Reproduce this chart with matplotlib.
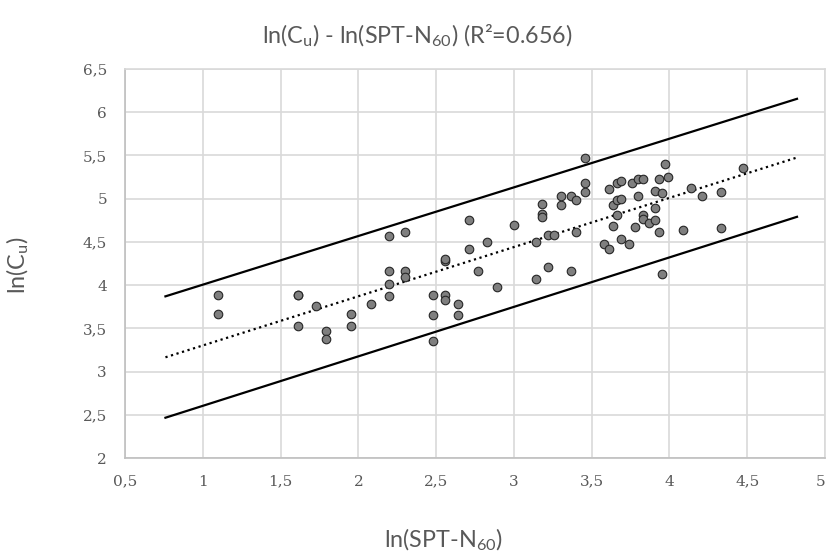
import matplotlib
matplotlib.use("Agg")
import matplotlib.pyplot as plt

# Data (ln(SPT-N60), ln(Cu))
x_vals = [1.10, 1.10, 1.61, 1.61, 1.73, 1.61, 1.79, 1.79, 1.95, 1.95,
          2.08, 2.20, 2.30, 2.20, 2.30, 2.30, 2.20, 2.20, 2.48, 2.48,
          2.48, 2.56, 2.56, 2.56, 2.56, 2.64, 2.64, 2.71, 2.71, 2.77,
          2.83, 2.89, 3.00, 3.14, 3.14, 3.22, 3.26, 3.22, 3.18, 3.18,
          3.18, 3.30, 3.30, 3.37, 3.46, 3.46, 3.46, 3.37, 3.40, 3.40,
          3.61, 3.66, 3.69, 3.64, 3.66, 3.69, 3.66, 3.64, 3.69, 3.58,
          3.61, 3.74, 3.76, 3.80, 3.83, 3.80, 3.78, 3.83, 3.83, 3.87,
          3.91, 3.91, 3.93, 3.91, 3.95, 3.93, 3.97, 3.99, 3.95, 4.09,
          4.14, 4.21, 4.33, 4.33, 4.47]
y_vals = [3.89, 3.67, 3.89, 3.89, 3.76, 3.53, 3.47, 3.38, 3.67, 3.53,
          3.78, 4.57, 4.61, 4.16, 4.16, 4.09, 4.01, 3.87, 3.89, 3.66,
          3.35, 4.28, 4.30, 3.89, 3.83, 3.78, 3.66, 4.75, 4.42, 4.16,
          4.50, 3.98, 4.70, 4.50, 4.07, 4.58, 4.58, 4.21, 4.94, 4.82,
          4.79, 4.93, 5.03, 4.16, 5.47, 5.18, 5.08, 5.03, 4.99, 4.61,
          5.11, 5.18, 5.21, 4.93, 4.99, 5.00, 4.81, 4.68, 4.53, 4.47,
          4.42, 4.48, 5.18, 5.23, 5.23, 5.03, 4.67, 4.81, 4.76, 4.72,
          4.89, 4.75, 5.23, 5.09, 5.06, 4.61, 5.40, 5.25, 4.13, 4.64,
          5.12, 5.03, 5.08, 4.66, 5.35]

# Regression line and bounds
line_x = [0.76, 4.82]
fit_y = [3.165, 5.476]
upper_y = [3.87, 6.155]
lower_y = [2.466, 4.79]

x_ticks = [0.5, 1, 1.5, 2, 2.5, 3, 3.5, 4, 4.5, 5]
x_tick_labels = ["0,5", "1", "1,5", "2", "2,5", "3", "3,5", "4", "4,5", "5"]
y_ticks = [2, 2.5, 3, 3.5, 4, 4.5, 5, 5.5, 6, 6.5]
y_tick_labels = ["2", "2,5", "3", "3,5", "4", "4,5", "5", "5,5", "6", "6,5"]

text_color = "#595959"
grid_color = "#d9d9d9"

fig = plt.figure(figsize=(8.28, 5.57), dpi=100)
ax = fig.add_axes([125 / 828, 1 - 458 / 557, 700 / 828, 389 / 557])

ax.plot(line_x, upper_y, color="black", lw=1.6, zorder=3)
ax.plot(line_x, lower_y, color="black", lw=1.6, zorder=3)
ax.plot(line_x, fit_y, color="black", lw=1.6, linestyle=(0, (1, 1.6)), zorder=3)
ax.scatter(x_vals, y_vals, s=38, facecolor="#7f7f7f", edgecolor="#262626",
           linewidth=0.8, zorder=4)

ax.set_xlim(0.5, 5)
ax.set_ylim(2, 6.5)
ax.set_xticks(x_ticks)
ax.set_xticklabels(x_tick_labels)
ax.set_yticks(y_ticks)
ax.set_yticklabels(y_tick_labels)
ax.tick_params(length=0, colors=text_color, labelsize=11)
ax.tick_params(axis="x", pad=12)
ax.tick_params(axis="y", pad=13)
for lab in ax.get_xticklabels() + ax.get_yticklabels():
    lab.set_family("DejaVu Serif")
    lab.set_color(text_color)
ax.get_xticklabels()[-1].set_horizontalalignment("right")

ax.grid(True, color=grid_color, lw=1.2, zorder=0)
ax.set_axisbelow(True)
for side in ["top", "right"]:
    ax.spines[side].set_color(grid_color)
    ax.spines[side].set_linewidth(1.2)
for side in ["left", "bottom"]:
    ax.spines[side].set_color("#bfbfbf")
    ax.spines[side].set_linewidth(1.2)

fig.text(417 / 828, 1 - 36 / 557,
         r"ln(C$_\mathregular{u}$) - ln(SPT-N$_\mathregular{60}$) (R²=0.656)",
         ha="center", va="center", fontsize=16.8, color=text_color, family="Lato")
fig.text(443 / 828, 1 - 540 / 557, r"ln(SPT-N$_\mathregular{60}$)",
         ha="center", va="center", fontsize=16.8, color=text_color, family="Lato")
fig.text(18 / 828, 1 - 265 / 557, r"ln(C$_\mathregular{u}$)", rotation=90,
         ha="center", va="center", fontsize=16.8, color=text_color, family="Lato")

fig.savefig("out.png", dpi=100)
